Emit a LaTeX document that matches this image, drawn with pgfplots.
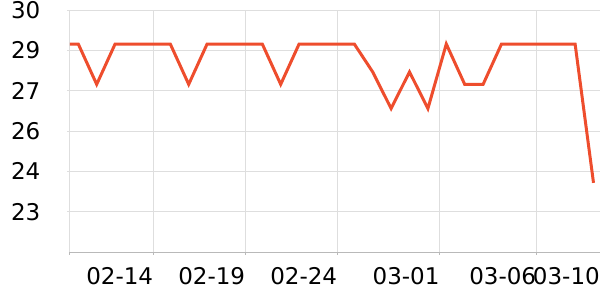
\documentclass[border=0pt]{standalone}
\usepackage{pgfplots}
\pgfplotsset{compat=1.18}
\usepackage{fontspec}
\setmainfont{DejaVu Sans}
\definecolor{linered}{RGB}{238,77,45}
\definecolor{gridgray}{RGB}{222,222,222}
\definecolor{axisgray}{RGB}{185,185,185}
\begin{document}
\begin{tikzpicture}
\useasboundingbox (-70pt,-48pt) rectangle (530pt,252pt);
\begin{axis}[
  at={(0pt,0pt)}, anchor=south west,
  scale only axis, width=530pt, height=242pt,
  xmin=-0.451, xmax=28.353, ymin=21.6, ymax=30,
  axis x line=bottom, axis y line=left,
  x axis line style={-, draw=axisgray, line width=1pt},
  y axis line style={-, draw=gridgray, line width=1pt},
  xtick={-0.451,4.076,9.076,14.076,19.641,24.891},
  xticklabels={,02-14,02-19,02-24,03-01,03-06},
  extra x ticks={28.353}, extra x tick labels={03-10},
  extra x tick style={grid=none, tick style={draw=none}},
  ytick={30,28.6,27.2,25.8,24.4,23},
  yticklabels={30,29,27,26,24,23},
  grid=major, major grid style={draw=gridgray, line width=1pt},
  tick align=outside, major tick length=2.5pt,
  x tick style={draw=axisgray, line width=1pt},
  y tick style={draw=gridgray, line width=1pt},
  xticklabel style={anchor=north east, inner sep=0pt, yshift=-13pt, font=\fontsize{23}{27}\selectfont},
  yticklabel style={anchor=east, inner sep=0pt, xshift=-27pt, font=\fontsize{23}{27}\selectfont},
  clip=true,
]
\addplot[color=linered, line width=3pt, line join=miter] coordinates {
  (-0.451,28.82)
  (0,28.82) (1,27.42) (2,28.82) (3,28.82) (4,28.82) (5,28.82) (6,27.42)
  (7,28.82) (8,28.82) (9,28.82) (10,28.82) (11,27.42) (12,28.82) (13,28.82)
  (14,28.82) (15,28.82) (16,27.85) (17,26.58) (18,27.85) (19,26.58) (20,28.82)
  (21,27.42) (22,27.42) (23,28.82) (24,28.82) (25,28.82) (26,28.82) (27,28.82)
  (28,24.0)
};
\end{axis}
\end{tikzpicture}
\end{document}
